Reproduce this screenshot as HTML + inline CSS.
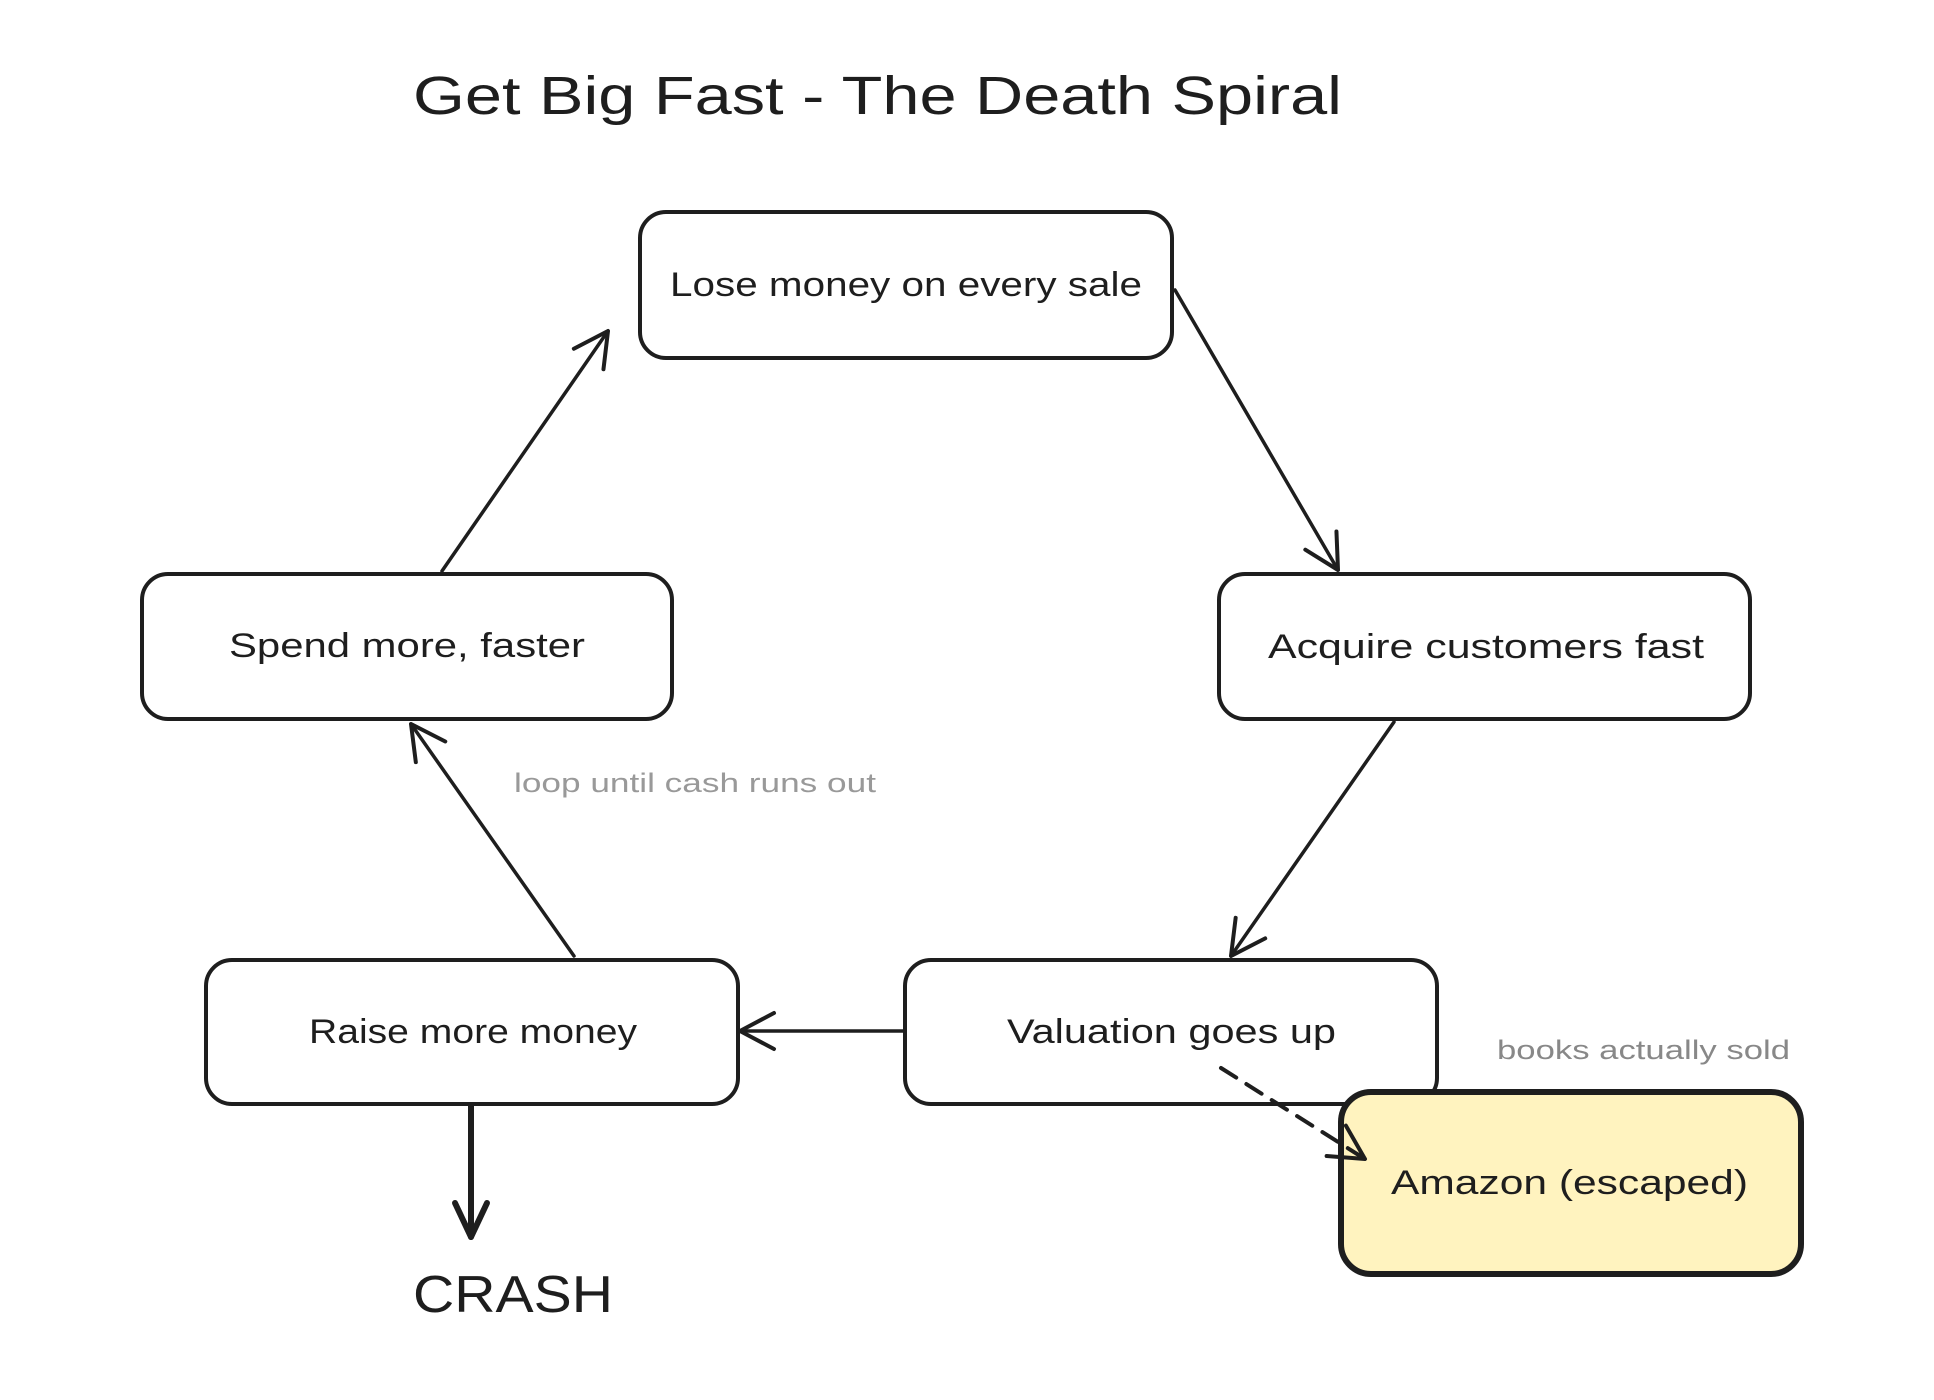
<!DOCTYPE html>
<html><head><meta charset="utf-8"><style>
html,body{margin:0;padding:0;background:#fff;}
svg{display:block;}
text{font-family:"Liberation Sans",sans-serif;fill:#1e1e1e;}
</style></head><body>
<svg width="1934" height="1400" viewBox="0 0 1934 1400" xmlns="http://www.w3.org/2000/svg">
<defs>
<marker id="ah" markerWidth="80" markerHeight="80" refX="40" refY="40" orient="auto" markerUnits="userSpaceOnUse">
<path d="M6,22 L40,40 L6,58" fill="none" stroke="#1e1e1e" stroke-width="4" stroke-linecap="round" stroke-linejoin="round"/>
</marker>
<marker id="ah2" markerWidth="80" markerHeight="80" refX="40" refY="40" orient="auto" markerUnits="userSpaceOnUse">
<path d="M6,24 L40,40 L6,56" fill="none" stroke="#1e1e1e" stroke-width="6" stroke-linecap="round" stroke-linejoin="round"/>
</marker>
</defs>
<text x="413" y="114" font-size="54" textLength="929" lengthAdjust="spacingAndGlyphs">Get Big Fast - The Death Spiral</text>

<g fill="#fff" stroke="#1e1e1e" stroke-width="4">
<rect x="640" y="212" width="532" height="146" rx="26"/>
<rect x="1219" y="574" width="531" height="145" rx="26"/>
<rect x="905" y="960" width="532" height="144" rx="26"/>
<rect x="206" y="960" width="532" height="144" rx="26"/>
<rect x="142" y="574" width="530" height="145" rx="26"/>
<rect x="1341" y="1092" width="460" height="182" rx="30" fill="#fff3bf" stroke-width="6"/>
</g>

<g font-size="34">
<text x="670" y="296" textLength="472" lengthAdjust="spacingAndGlyphs">Lose money on every sale</text>
<text x="1268" y="658" textLength="436" lengthAdjust="spacingAndGlyphs">Acquire customers fast</text>
<text x="1007" y="1043" textLength="329" lengthAdjust="spacingAndGlyphs">Valuation goes up</text>
<text x="309" y="1043" textLength="328" lengthAdjust="spacingAndGlyphs">Raise more money</text>
<text x="229" y="657" textLength="356" lengthAdjust="spacingAndGlyphs">Spend more, faster</text>
<text x="1391" y="1194" textLength="357" lengthAdjust="spacingAndGlyphs">Amazon (escaped)</text>
</g>
<text x="413" y="1312" font-size="52" textLength="200" lengthAdjust="spacingAndGlyphs">CRASH</text>
<text x="514" y="792" font-size="27" textLength="362" lengthAdjust="spacingAndGlyphs" style="fill:#999">loop until cash runs out</text>
<text x="1497" y="1059" font-size="27" textLength="293" lengthAdjust="spacingAndGlyphs" style="fill:#888">books actually sold</text>

<g stroke="#1e1e1e" stroke-width="3.5" fill="none" stroke-linecap="round">
<line x1="1175" y1="290" x2="1338" y2="570" marker-end="url(#ah)"/>
<line x1="1394" y1="722" x2="1231" y2="956" marker-end="url(#ah)"/>
<line x1="904" y1="1031" x2="740" y2="1031" marker-end="url(#ah)"/>
<line x1="574" y1="956" x2="411" y2="724" marker-end="url(#ah)"/>
<line x1="442" y1="571" x2="608" y2="331" marker-end="url(#ah)"/>
<line x1="471" y1="1106" x2="471" y2="1237" stroke-width="6" marker-end="url(#ah2)"/>
<line x1="1221" y1="1068" x2="1365" y2="1159" stroke-width="4" stroke-dasharray="18 12" marker-end="url(#ah)"/>
</g>
</svg>
</body></html>
